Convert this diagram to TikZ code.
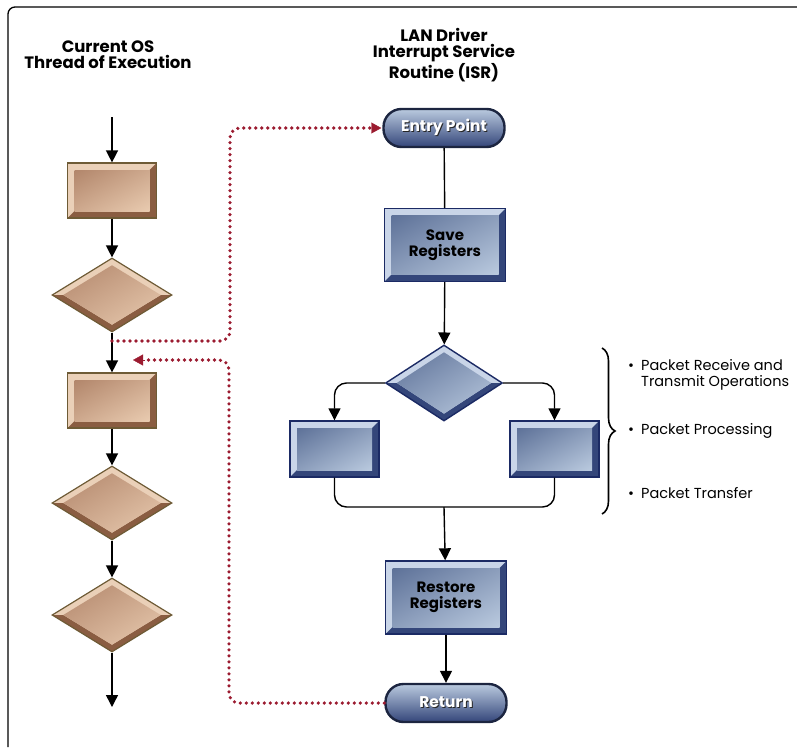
\documentclass[tikz,border=0pt]{standalone}
\usepackage{fontspec}
\setmainfont{Poppins}
\usetikzlibrary{shapes.geometric,shadings,arrows.meta,decorations.pathreplacing,positioning}

\definecolor{tanline}{HTML}{6E5B36}
\definecolor{tanlight}{HTML}{EAD0B8}
\definecolor{tandark}{HTML}{8A5D42}
\definecolor{taninA}{HTML}{B2866B}
\definecolor{taninB}{HTML}{E9CBB0}
\definecolor{blueline}{HTML}{1B2A64}
\definecolor{bluelight}{HTML}{C9D5E8}
\definecolor{bluedark}{HTML}{34467A}
\definecolor{blueinA}{HTML}{5D7198}
\definecolor{blueinB}{HTML}{BACADF}
\definecolor{pillline}{HTML}{1C2540}
\definecolor{irqred}{HTML}{9B1B30}

\newcommand\shadowtxt[1]{\rlap{\kern1pt\raisebox{-1pt}{\color{black!85}#1}}#1}
\newcommand\pointmark{\textbullet\hspace{7pt}}

\tikzset{
  boxbevel/.style n args={4}{path picture={
    \fill[#2] (path picture bounding box.south west) rectangle (path picture bounding box.north east);
    \fill[#1] (path picture bounding box.south west) -- (path picture bounding box.south east)
      -- (path picture bounding box.north east) -- ([shift={(-7pt,-7pt)}]path picture bounding box.north east)
      -- ([shift={(-7pt,7pt)}]path picture bounding box.south east) -- ([shift={(7pt,7pt)}]path picture bounding box.south west) -- cycle;
    \shade[upper left=#3, lower right=#4, upper right=#3!50!#4, lower left=#3!50!#4]
      ([shift={(7pt,-7pt)}]path picture bounding box.north west) rectangle ([shift={(-7pt,7pt)}]path picture bounding box.south east);
  }},
  diabevel/.style n args={4}{path picture={
    \fill[#2] (path picture bounding box.north) -- (path picture bounding box.east)
      -- (path picture bounding box.south) -- (path picture bounding box.west) -- cycle;
    \fill[#1] (path picture bounding box.west) -- (path picture bounding box.south) -- (path picture bounding box.east)
      -- ([xshift=-11pt]path picture bounding box.east) -- ([yshift=7pt]path picture bounding box.south)
      -- ([xshift=11pt]path picture bounding box.west) -- cycle;
    \shade[upper left=#3, lower right=#4, upper right=#3!50!#4, lower left=#3!50!#4]
      ([yshift=-7pt]path picture bounding box.north) -- ([xshift=-11pt]path picture bounding box.east)
      -- ([yshift=7pt]path picture bounding box.south) -- ([xshift=11pt]path picture bounding box.west) -- cycle;
  }}
}

\begin{document}
\begin{tikzpicture}[x=1pt,y=-1pt,
  title/.style={font=\bfseries\fontsize{16.5}{16}\selectfont, align=center, inner sep=0pt},
  tanbox/.style={draw=tanline, line width=1.2pt, minimum width=89pt, minimum height=55pt, inner sep=0pt,
    boxbevel={tandark}{tanlight}{taninA}{taninB}},
  tandia/.style={diamond, draw=tanline, line width=1.2pt, minimum width=120pt, minimum height=74pt, inner sep=0pt,
    diabevel={tandark}{tanlight}{taninA}{taninB}},
  bluebox/.style={draw=blueline, line width=1.4pt, minimum width=89pt, minimum height=56pt, inner sep=0pt,
    align=center, font=\bfseries\fontsize{15}{16}\selectfont,
    boxbevel={bluedark}{bluelight}{blueinA}{blueinB}},
  bigbox/.style={minimum width=121pt, minimum height=73pt},
  bluedia/.style={diamond, draw=blueline, line width=1.4pt, minimum width=117pt, minimum height=76pt, inner sep=0pt,
    diabevel={bluedark}{bluelight}{blueinA}{blueinB}},
  pill/.style={draw=pillline, line width=2.4pt, rounded corners=18pt, minimum width=121pt, minimum height=38pt,
    top color=blueinB, middle color=blueinA, bottom color=bluedark, text=white,
    font=\bfseries\fontsize{15.5}{16}\selectfont},
  flow/.style={-{Triangle[width=12pt,length=12pt]}, line width=1.4pt},
  link/.style={line width=1.4pt},
  irq/.style={draw=irqred, line width=3.6pt, dash pattern=on 0pt off 6pt, line cap=round, rounded corners=10pt},
  irqtip/.style={-{Triangle[width=11pt,length=10pt]}, irqred},
  point/.style={anchor=west, inner sep=0pt, align=left, font=\fontsize{14.5}{16}\selectfont}]

\useasboundingbox (0,0) rectangle (797,747);
\draw[line width=1.3pt, rounded corners=7pt] (8,747) -- (8,7) -- (797,7);

% current thread
\node[title] (osTitle) at (108,55) {Current OS\\Thread of Execution};
\coordinate (osIn) at (112,117);
\node[tanbox] (os1) at (112,190.5) {};
\node[tandia] (os2) at (112,295) {};
\node[tanbox] (os3) at (112,400.5) {};
\node[tandia] (os4) at (112,503) {};
\node[tandia] (os5) at (112,615) {};
\coordinate (osOut) at (112,707);
\coordinate (tapA) at (112,341);
\coordinate (tapB) at (133,360);

\draw[flow] (osIn) -- (os1);
\draw[flow] (os1) -- (os2);
\draw[flow] (os2) -- (os3);
\draw[flow] (os3) -- (os4);
\draw[flow] (os4) -- (os5);
\draw[flow] (os5) -- (osOut);

% interrupt service routine
\node[title] (isrTitle) at (444,55) {LAN Driver\\Interrupt Service\\Routine (ISR)};
\node[pill] (entry) at (444,128) {\shadowtxt{Entry Point}};
\node[bluebox,bigbox] (save) at (445,245) {Save\\Registers};
\node[bluedia] (dispatch) at (444,383) {};
\node[bluebox] (rx) at (334.5,449) {};
\node[bluebox] (tx) at (554.5,449) {};
\coordinate (join) at (444,507);
\node[bluebox,bigbox] (restore) at (446,597.5) {Restore\\Registers};
\node[pill] (ret) at (446,703) {\shadowtxt{Return}};

\draw[link] (entry) -- (save);
\draw[flow] (save) -- (dispatch);
\draw[flow, rounded corners=12pt] (dispatch.west) -| (rx.north);
\draw[flow, rounded corners=12pt] (dispatch.east) -| (tx.north);
\draw[link, rounded corners=12pt] (rx.south) |- (join) -| (tx.south);
\draw[flow] (join) -- (restore);
\draw[flow] (restore) -- (ret);

% interrupt in and out
\draw[irq] (tapA) -- ++(118,0) |- ([xshift=-10pt]entry.west);
\draw[irqtip] ([xshift=-12pt]entry.west) -- ([xshift=-1pt]entry.west);
\draw[irq] (ret.west) -| (229,360) -- ([xshift=10pt]tapB);
\draw[irqtip] ([xshift=12pt]tapB) -- (tapB);

% what the ISR does
\draw[line width=1.6pt, decorate, decoration={brace, amplitude=13pt}] (602,348) -- (602,514);
\node[point] (recv) at (628,375) {\pointmark Packet Receive and\\\hphantom{\pointmark}Transmit Operations};
\node[point] (proc) at (628,431) {\pointmark Packet Processing};
\node[point] (xfer) at (628,493) {\pointmark Packet Transfer};
\end{tikzpicture}
\end{document}
